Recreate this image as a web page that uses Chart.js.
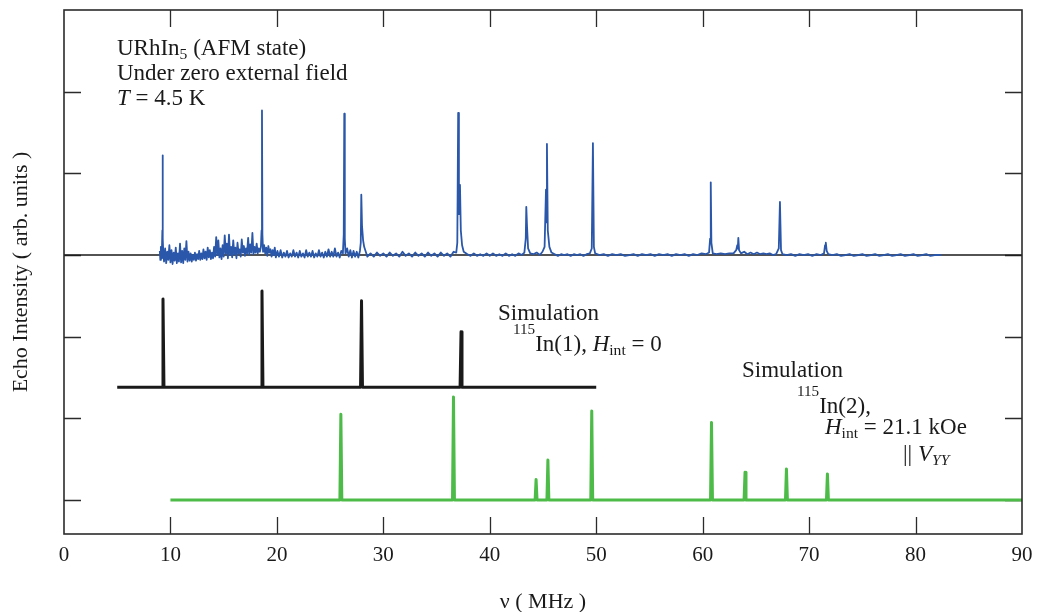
<!DOCTYPE html>
<html>
<head>
<meta charset="utf-8">
<script src="https://cdn.jsdelivr.net/npm/chart.js@4.4.0/dist/chart.umd.min.js"></script>
<style>
  body { margin: 0; background: #fff; }
  #wrap { width: 1037px; height: 612px; }
</style>
</head>
<body>
<div id="wrap"><canvas id="myChart" width="1037" height="612"></canvas></div>
<script>
// measured echo spectrum, [frequency MHz, intensity arb.]
let measured = [
  [9.00,0.05],[9.05,-0.06],[9.10,0.10],[9.15,-0.04],[9.20,0.06],[9.24,0.30],[9.26,1.22],[9.29,0.20],[9.33,0.02],
  [9.40,-0.08],[9.50,0.08],[9.60,-0.10],[9.70,0.04],[9.80,-0.06],[9.90,0.12],[10.00,-0.09],[10.10,0.06],[10.20,-0.11],[10.30,0.03],
  [10.40,-0.07],[10.50,0.09],[10.60,-0.10],[10.70,0.02],[10.80,-0.08],[10.90,0.14],[11.00,-0.09],[11.10,0.05],[11.20,-0.10],[11.30,0.08],
  [11.40,-0.06],[11.50,0.17],[11.60,-0.08],[11.70,0.04],[11.80,-0.07],[11.90,0.02],
  [12.00,-0.08],[12.10,0.00],[12.20,-0.06],[12.30,0.03],[12.40,-0.07],[12.50,0.01],[12.60,-0.05],[12.70,0.05],[12.80,-0.06],[12.90,0.02],
  [13.00,-0.05],[13.10,0.07],[13.20,-0.04],[13.30,0.04],[13.40,-0.06],[13.50,0.09],[13.60,-0.03],[13.70,0.06],[13.80,-0.05],[13.90,0.03],
  [14.00,-0.04],[14.10,0.10],[14.20,-0.02],[14.30,0.22],[14.40,0.00],[14.50,0.18],[14.60,-0.03],[14.70,0.08],[14.80,-0.05],[14.90,0.12],
  [15.00,-0.02],[15.10,0.24],[15.20,0.02],[15.30,0.14],[15.40,-0.04],[15.50,0.25],[15.60,0.00],[15.70,0.10],[15.80,-0.03],[15.90,0.18],
  [16.00,0.01],[16.10,0.09],[16.20,-0.04],[16.30,0.15],[16.40,0.02],[16.50,0.07],[16.60,-0.02],[16.70,0.19],[16.80,0.03],[16.90,0.11],
  [17.00,-0.01],[17.10,0.08],[17.20,0.02],[17.30,0.21],[17.40,0.00],[17.50,0.13],[17.60,0.03],[17.70,0.27],[17.80,0.01],[17.90,0.10],
  [18.00,0.03],[18.10,0.14],[18.20,0.02],[18.30,0.08],[18.40,0.04],[18.50,0.10],[18.56,0.30],[18.60,1.77],[18.64,0.25],[18.70,0.04],
  [18.80,0.12],[18.90,0.02],[19.00,0.09],[19.10,-0.01],[19.20,0.11],[19.30,0.03],[19.40,0.07],[19.50,-0.02],[19.60,0.06],[19.70,0.00],
  [19.80,0.09],[19.90,-0.03],
  [20.05,0.05],[20.20,-0.02],[20.35,0.06],[20.50,-0.03],[20.65,0.03],[20.80,-0.02],[20.95,0.05],[21.10,-0.03],[21.25,0.02],[21.40,-0.02],
  [21.55,0.06],[21.70,-0.02],[21.85,0.03],[22.00,-0.03],[22.15,0.05],[22.30,-0.02],[22.45,0.02],[22.60,-0.03],[22.75,0.06],[22.90,-0.02],
  [23.05,0.03],[23.20,-0.02],[23.35,0.05],[23.50,-0.03],[23.65,0.02],[23.80,-0.02],[23.95,0.06],[24.10,-0.02],[24.25,0.03],[24.40,-0.03],
  [24.55,0.04],[24.70,-0.02],[24.85,0.07],[25.00,-0.02],[25.15,0.04],[25.30,-0.02],[25.45,0.08],[25.60,-0.02],[25.75,0.03],[25.90,-0.03],
  [26.05,0.05],[26.20,0.02],[26.28,0.25],[26.33,1.73],[26.38,0.20],[26.45,0.02],
  [26.60,0.08],[26.75,-0.02],[26.90,0.06],[27.05,-0.03],[27.20,0.05],[27.35,-0.02],[27.50,0.04],[27.65,-0.03],[27.80,0.05],[27.88,0.15],
  [27.93,0.74],[28.00,0.35],[28.10,0.18],[28.20,0.10],[28.35,0.04],[28.50,-0.02],
  [28.80,0.02],[29.10,-0.02],[29.40,0.03],[29.70,-0.01],[30.00,0.02],[30.30,-0.02],[30.60,0.03],[30.90,-0.01],[31.20,0.02],[31.50,-0.02],
  [31.80,0.04],[32.10,-0.01],[32.40,0.02],[32.70,-0.02],[33.00,0.03],[33.30,-0.01],[33.60,0.02],[33.90,-0.02],[34.20,0.03],[34.50,-0.01],
  [34.80,0.02],[35.10,-0.02],[35.40,0.03],[35.70,-0.01],[36.00,0.02],[36.30,-0.02],[36.60,0.04],[36.85,0.03],[36.95,0.15],[37.03,1.74],
  [37.10,0.50],[37.20,0.86],[37.28,0.30],[37.40,0.12],[37.55,0.04],
  [37.90,0.01],[38.20,-0.01],[38.50,0.02],[38.80,-0.01],[39.10,0.01],[39.40,-0.01],[39.70,0.02],[40.00,-0.01],[40.30,0.02],[40.60,-0.01],
  [40.90,0.01],[41.20,-0.01],[41.50,0.02],[41.80,-0.01],[42.10,0.01],[42.40,-0.01],[42.70,0.02],[43.00,0.00],[43.25,0.03],[43.38,0.20],
  [43.43,0.59],[43.50,0.35],[43.60,0.08],[43.80,0.02],
  [44.10,0.01],[44.40,0.03],[44.70,0.00],[44.95,0.04],[45.15,0.10],[45.28,0.80],[45.32,0.40],[45.37,1.36],[45.45,0.30],[45.60,0.10],
  [45.80,0.03],
  [46.10,0.01],[46.40,-0.01],[46.70,0.01],[47.00,0.00],[47.30,0.01],[47.60,-0.01],[47.90,0.01],[48.20,0.00],[48.50,0.01],[48.80,-0.01],
  [49.10,0.01],[49.40,0.02],[49.58,0.08],[49.69,1.37],[49.78,0.10],[49.90,0.02],
  [50.30,0.00],[50.70,0.01],[51.10,-0.01],[51.50,0.01],[51.90,0.00],[52.30,0.01],[52.70,-0.01],[53.10,0.00],[53.50,0.01],[53.90,-0.01],
  [54.30,0.01],[54.70,0.00],[55.10,0.01],[55.50,-0.01],[55.90,0.01],[56.30,0.00],[56.70,0.01],[57.10,-0.01],[57.50,0.01],[57.90,0.00],
  [58.30,0.01],[58.70,-0.01],[59.10,0.01],[59.50,0.00],[59.90,0.02],[60.30,0.01],[60.60,0.03],[60.70,0.20],[60.76,0.89],[60.82,0.15],
  [60.95,0.02],
  [61.30,0.01],[61.70,0.02],[62.10,0.01],[62.50,0.02],[62.90,0.02],[63.15,0.06],[63.25,0.12],[63.30,0.08],[63.35,0.21],[63.42,0.06],
  [63.60,0.02],[63.90,0.04],[64.20,0.01],[64.50,0.03],[64.80,0.01],[65.10,0.03],[65.40,0.01],[65.70,0.02],[66.00,0.01],[66.30,0.02],
  [66.60,0.00],[66.90,0.01],[67.15,0.08],[67.26,0.65],[67.36,0.06],[67.50,0.01],
  [67.90,0.00],[68.30,0.01],[68.70,-0.01],[69.10,0.01],[69.50,0.00],[69.90,0.01],[70.30,-0.01],[70.70,0.01],[71.10,0.00],[71.40,0.02],
  [71.50,0.12],[71.57,0.15],[71.65,0.05],[71.80,0.01],
  [72.20,0.00],[72.60,0.01],[73.00,-0.01],[73.40,0.00],[73.80,0.01],[74.20,-0.01],[74.60,0.00],[75.00,0.01],[75.40,-0.01],[75.80,0.00],
  [76.20,0.01],[76.60,-0.01],[77.00,0.00],[77.40,0.01],[77.80,-0.01],[78.20,0.00],[78.60,0.01],[79.00,-0.01],[79.40,0.00],[79.80,0.01],
  [80.20,-0.01],[80.60,0.00],[81.00,0.01],[81.40,-0.01],[81.80,0.00],[82.40,0.00]
];

// simulation In(1), Hint = 0
let sim1Range = [5, 50];
let sim1Freq = [9.3, 18.6, 27.95, 37.3];
let sim1Amp = [1.08, 1.18, 1.06, 0.68];

// simulation In(2), Hint = 21.1 kOe
let sim2Range = [10, 90];
let sim2Freq = [26.01, 36.59, 44.35, 45.46, 49.58, 60.83, 63.98, 67.87, 71.72];
let sim2Amp = [1.05, 1.26, 0.25, 0.49, 1.09, 0.95, 0.34, 0.38, 0.32];

let xTicks = [0, 10, 20, 30, 40, 50, 60, 70, 80, 90];
let yTicks = [0, 1, 2, 3, 4, 5];

// vertical offsets of the stacked traces
let offMeas = 3;
let offSim1 = 1.38;
let offSim2 = 0;

function stickTrace(range, freq, amp, off) {
    let pts = [{x: range[0], y: off}];
    for (let i in freq) {
        pts.push({x: freq[i] - 0.09, y: off});
        pts.push({x: freq[i], y: off + amp[i]});
        pts.push({x: freq[i] + 0.09, y: off});
    }
    pts.push({x: range[1], y: off});
    return pts;
}

let measPts = [];
for (let i in measured) {
    measPts.push({x: measured[i][0], y: measured[i][1] + offMeas});
}

const SERIF = '"Liberation Serif", "Times New Roman", serif';

// draws a line of text made from normal / italic / sub / sup pieces
function richText(ctx, x, y, parts, size) {
    let cx = x;
    for (let p of parts) {
        let txt = p[0], kind = p[1] || 'n';
        let s = size, dy = 0, style = '';
        if (kind == 'i') style = 'italic ';
        if (kind == 'sub') { s = size * 0.68; dy = size * 0.18; }
        if (kind == 'isub') { s = size * 0.68; dy = size * 0.18; style = 'italic '; }
        if (kind == 'sup') { s = size * 0.66; dy = -size * 0.72; }
        ctx.font = style + s + 'px ' + SERIF;
        ctx.fillText(txt, cx, y + dy);
        cx += ctx.measureText(txt).width;
    }
}

const framePlugin = {
    id: 'frame',
    // inward tick marks go under the traces
    beforeDatasetsDraw(chart) {
        let ctx = chart.ctx;
        let a = chart.chartArea;
        let xs = chart.scales.x, ys = chart.scales.y;
        ctx.save();
        ctx.strokeStyle = '#2b2b2b';
        ctx.lineWidth = 1.3;
        ctx.beginPath();
        for (let t of xTicks) {
            let px = Math.round(xs.getPixelForValue(t)) + 0.5;
            if (t == xTicks[0] || t == xTicks[xTicks.length - 1]) continue;
            ctx.moveTo(px, a.bottom); ctx.lineTo(px, a.bottom - 17);
            ctx.moveTo(px, a.top); ctx.lineTo(px, a.top + 17);
        }
        for (let t of yTicks) {
            let py = Math.round(ys.getPixelForValue(t)) + 0.5;
            ctx.moveTo(a.left, py); ctx.lineTo(a.left + 17, py);
            ctx.moveTo(a.right, py); ctx.lineTo(a.right - 17, py);
        }
        ctx.stroke();
        ctx.restore();
    },
    afterDraw(chart) {
        let ctx = chart.ctx;
        let a = chart.chartArea;
        ctx.save();
        ctx.strokeStyle = '#2b2b2b';
        ctx.lineWidth = 1.6;
        ctx.strokeRect(a.left, a.top, a.right - a.left, a.bottom - a.top);

        ctx.fillStyle = '#1a1a1a';
        ctx.textBaseline = 'alphabetic';
        ctx.textAlign = 'left';
        let fs = 23;
        richText(ctx, 117, 55, [['URhIn'], ['5', 'sub'], [' (AFM state)']], fs);
        richText(ctx, 117, 80, [['Under zero external field']], fs);
        richText(ctx, 117, 105, [['T', 'i'], [' = 4.5 K']], fs);

        richText(ctx, 498, 320, [['Simulation']], fs);
        richText(ctx, 513, 351, [['115', 'sup'], ['In(1), '], ['H', 'i'], ['int', 'sub'], [' = 0']], fs);

        richText(ctx, 742, 377, [['Simulation']], fs);
        richText(ctx, 797, 413, [['115', 'sup'], ['In(2),']], fs);
        richText(ctx, 825, 434, [['H', 'i'], ['int', 'sub'], [' = 21.1 kOe']], fs);
        richText(ctx, 903, 461, [['|| '], ['V', 'i'], ['YY', 'isub']], fs);
        ctx.restore();
    }
};

let graphTarget = document.getElementById('myChart');
let specChart = new Chart(graphTarget, {
    type: 'line',
    data: {
        datasets: [{
            label: 'measured',
            data: measPts,
            borderColor: '#2a57a9',
            borderWidth: 1.8,
            order: 0
        }, {
            label: 'zero',
            data: [{x: xTicks[0], y: offMeas}, {x: xTicks[xTicks.length - 1], y: offMeas}],
            borderColor: '#1a1a1a',
            borderWidth: 1.3,
            order: 3
        }, {
            label: 'In(1)',
            data: stickTrace(sim1Range, sim1Freq, sim1Amp, offSim1),
            borderColor: '#1a1a1a',
            borderWidth: 3,
            order: 1
        }, {
            label: 'In(2)',
            data: stickTrace(sim2Range, sim2Freq, sim2Amp, offSim2),
            borderColor: '#4cbb47',
            borderWidth: 3,
            order: 2
        }]
    },
    options: {
        responsive: false,
        animation: false,
        layout: { padding: { top: 10, right: 15, left: 0, bottom: 0 } },
        elements: { point: { radius: 0 }, line: { tension: 0, borderJoinStyle: 'round' } },
        plugins: { legend: { display: false }, tooltip: { enabled: false } },
        scales: {
            x: {
                type: 'linear',
                min: 0,
                max: 90,
                afterFit: function(scale) {
                    scale.height = 78;
                    scale.paddingLeft = 0;
                    scale.paddingRight = 0;
                },
                afterBuildTicks: function(scale) { scale.ticks = xTicks.map(v => ({value: v})); },
                grid: { display: false, drawTicks: false },
                border: { display: false },
                ticks: {
                    padding: 9,
                    maxRotation: 0,
                    color: '#1a1a1a',
                    font: { family: SERIF, size: 21 },
                    callback: function(value) { return value + ''; }
                },
                title: {
                    display: true,
                    text: '\u03bd ( MHz )',
                    color: '#1a1a1a',
                    font: { family: SERIF, size: 22 },
                    padding: { top: 0, bottom: -3 }
                }
            },
            y: {
                type: 'linear',
                min: -0.416,
                max: 6.0,
                afterFit: function(scale) {
                    scale.width = 64;
                    scale.paddingTop = 0;
                    scale.paddingBottom = 0;
                },
                grid: { display: false, drawTicks: false },
                border: { display: false },
                ticks: { display: false },
                title: {
                    display: true,
                    text: 'Echo Intensity ( arb. units )',
                    color: '#1a1a1a',
                    font: { family: SERIF, size: 22 },
                    padding: { top: 8, bottom: 0 }
                }
            }
        }
    },
    plugins: [framePlugin]
});
</script>
</body>
</html>
